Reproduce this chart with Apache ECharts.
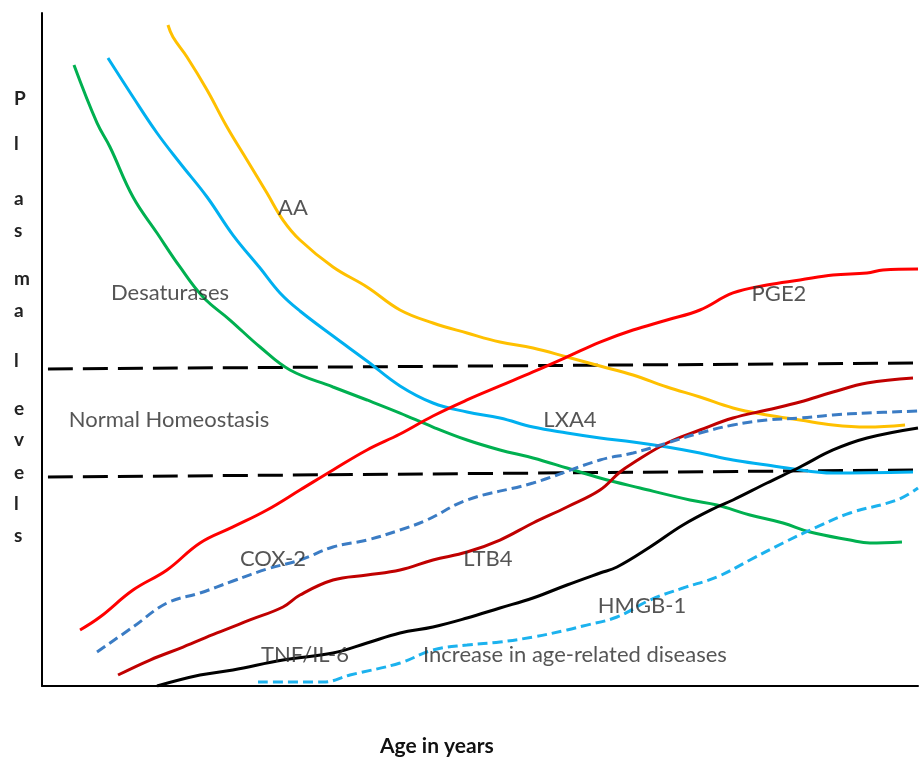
<!DOCTYPE html>
<html>
<head>
<meta charset="utf-8">
<script src="https://cdn.jsdelivr.net/npm/echarts@6/dist/echarts.min.js"></script>
<style>html,body{margin:0;padding:0;background:#fff;}#c{width:922px;height:763px;}</style>
</head>
<body>
<div id="c"></div>
<script>
// Values on an abstract 0-100 scale (x = age, y = plasma level)
const desaturases = [[3.65,92.27],[6.28,83.66],[7.76,80.09],[10.39,72.66],[13.13,67.31],[15.75,62.26],[18.38,57.8],[21.46,54.38],[24.89,50.37],[28.31,46.95],[33.22,44.43],[37.1,42.5],[40.87,40.56],[44.63,38.48],[48.52,36.55],[52.28,35.07],[56.05,33.88],[59.93,32.39],[63.7,30.91],[68.26,29.42],[73.97,27.64],[77.05,26.89],[80.82,25.41],[84.59,24.22],[87.67,22.88],[92.24,21.69],[94.52,21.25],[98.17,21.4]];
const lxa4 = [[7.53,93.31],[10.39,87.52],[13.13,82.17],[15.75,77.71],[18.84,72.66],[21.8,67.0],[24.89,62.1],[27.17,58.4],[29.45,55.72],[33.22,52.0],[37.1,48.29],[40.87,44.58],[44.63,42.05],[48.52,40.72],[52.28,39.82],[56.05,38.48],[59.93,37.59],[63.7,36.85],[67.47,36.26],[71.35,35.51],[75.11,34.62],[78.88,33.58],[82.76,32.84],[85.05,32.39],[90.3,31.65],[99.43,31.8]];
const aa = [[14.38,98.22],[14.95,96.43],[16.55,93.46],[18.84,88.56],[21.12,83.06],[23.4,78.16],[25.68,73.25],[27.51,69.24],[29.45,66.27],[33.22,62.26],[37.1,59.29],[40.87,55.87],[44.63,53.94],[48.52,52.45],[52.28,51.11],[56.05,50.22],[59.93,48.89],[63.7,47.55],[67.47,46.21],[71.35,44.43],[75.11,42.94],[78.88,41.31],[82.76,40.27],[86.53,39.52],[90.3,38.78],[94.18,38.48],[98.52,38.78]];
const pge2 = [[4.34,8.32],[6.62,10.25],[10.39,14.26],[14.27,17.24],[18.04,21.25],[21.8,23.63],[25.68,26.15],[29.45,29.12],[33.22,32.1],[37.1,35.07],[40.87,37.44],[44.63,40.12],[48.52,42.5],[52.28,44.58],[56.05,46.66],[59.93,48.89],[63.7,51.11],[67.47,52.9],[71.35,54.38],[75.11,55.87],[78.88,58.4],[82.76,59.58],[86.53,60.33],[90.3,61.07],[94.18,61.37],[96.0,61.81],[100,61.96]];
const ltb4 = [[8.68,1.63],[12.33,3.86],[16.1,5.79],[19.98,7.88],[23.74,9.81],[27.51,11.74],[29.45,13.52],[33.22,15.75],[37.1,16.49],[40.87,17.24],[44.63,18.72],[48.52,19.91],[52.28,21.69],[56.05,24.22],[59.93,26.6],[63.7,29.12],[65.98,31.8],[67.47,33.14],[71.35,36.11],[75.11,38.04],[78.88,39.82],[82.76,41.01],[86.53,42.2],[90.3,43.68],[94.18,45.02],[99.43,45.77]];
const cox2 = [[6.28,5.05],[10.39,8.77],[14.27,12.33],[18.04,13.82],[21.8,15.6],[25.68,17.38],[29.45,18.72],[33.22,20.65],[37.1,21.69],[40.87,23.18],[43.95,24.67],[48.52,27.64],[56.05,30.16],[63.7,33.58],[67.47,34.62],[71.35,36.11],[75.11,37.59],[78.88,38.78],[82.76,39.52],[86.53,39.82],[90.3,40.27],[94.18,40.56],[100,40.86]];
const tnf = [[13.13,0],[18.04,1.63],[21.8,2.38],[27.51,3.86],[33.22,4.9],[37.1,6.39],[40.87,7.88],[44.63,8.77],[48.52,10.1],[52.28,11.59],[56.05,13.08],[59.93,15.01],[63.7,16.79],[65.64,17.68],[69.41,20.65],[73.17,23.92],[77.05,26.6],[78.88,27.64],[82.76,30.16],[86.53,32.54],[90.3,35.07],[94.18,36.85],[100,38.34]];
const hmgb1 = [[24.66,0.59],[32.08,0.59],[35.16,1.63],[40.87,3.42],[44.63,5.35],[48.52,6.09],[52.28,6.54],[56.05,7.28],[59.93,8.32],[61.76,8.92],[65.64,10.25],[69.41,12.78],[73.17,14.56],[77.05,16.2],[80.82,18.72],[84.59,21.25],[88.47,23.63],[92.24,25.71],[97.6,27.64],[100,29.42]];
const upperBound = [[0.68,47.1],[100,48.0]];
const lowerBound = [[0.68,31.05],[100,32.1]];
const annotations = [
  [28.65,71.03,'AA'],
  [14.61,58.4,'Desaturases'],
  [14.5,39.52,'Normal Homeostasis'],
  [60.27,39.52,'LXA4'],
  [84.13,58.25,'PGE2'],
  [26.37,18.87,'COX-2'],
  [50.91,18.87,'LTB4'],
  [68.49,11.89,'HMGB-1'],
  [30.02,4.61,'TNF/IL-6'],
  [60.84,4.61,'Increase in age-related diseases']
];
const yLetters = ['P','l','a','s','m','a','l','e','v','e','l','s'];
const yLetterPos = [100,145,200,232,280,312,362,410,441,474,505,537];
const xTitle = 'Age in years';

const FONT = 'Lato';
function lineSeries(name, data, color, dash, width) {
  return {
    name: name, type: 'line', data: data, symbol: 'none', smooth: 0.4,
    lineStyle: {color: color, width: width || 3, type: dash || 'solid'},
    z: 2, silent: true
  };
}
const chart = echarts.init(document.getElementById('c'), null, {renderer: 'canvas'});
const graphics = yLetters.map((ch, i) => ({
  type: 'text', left: 14, top: yLetterPos[i] - 11,
  style: {text: ch, fill: '#222', font: 'bold 19px ' + FONT}
}));
graphics.push({
  type: 'text', left: 380, top: 736,
  style: {text: xTitle, fill: '#111', font: 'bold 21px ' + FONT}
});
chart.setOption({
  animation: false,
  backgroundColor: '#fff',
  grid: {left: 42, right: 4, top: 13, bottom: 77},
  xAxis: {type: 'value', min: 0, max: 100, axisLine: {lineStyle: {color: '#000', width: 2}}, axisTick: {show: false}, axisLabel: {show: false}, splitLine: {show: false}},
  yAxis: {type: 'value', min: 0, max: 100, axisLine: {show: true, lineStyle: {color: '#000', width: 2}}, axisTick: {show: false}, axisLabel: {show: false}, splitLine: {show: false}},
  graphic: graphics,
  series: [
    lineSeries('upper', upperBound, '#000', [25, 10], 3),
    lineSeries('lower', lowerBound, '#000', [25, 10], 3),
    lineSeries('Desaturases', desaturases, '#00B050'),
    lineSeries('LXA4', lxa4, '#00B0F0'),
    lineSeries('AA', aa, '#FFC000'),
    lineSeries('PGE2', pge2, '#FF0000'),
    lineSeries('LTB4', ltb4, '#C00000'),
    lineSeries('COX-2', cox2, '#3B7CC4', [10, 5]),
    lineSeries('TNF/IL-6', tnf, '#000000'),
    lineSeries('HMGB-1', hmgb1, '#1CB2EE', [10, 5]),
    {
      type: 'scatter', data: annotations, symbolSize: 1, itemStyle: {color: 'rgba(0,0,0,0)'}, silent: true, z: 5,
      label: {show: true, position: 'inside', formatter: p => p.value[2], color: '#2a2a2a', fontFamily: FONT, fontSize: 22}
    }
  ]
});
</script>
</body>
</html>
